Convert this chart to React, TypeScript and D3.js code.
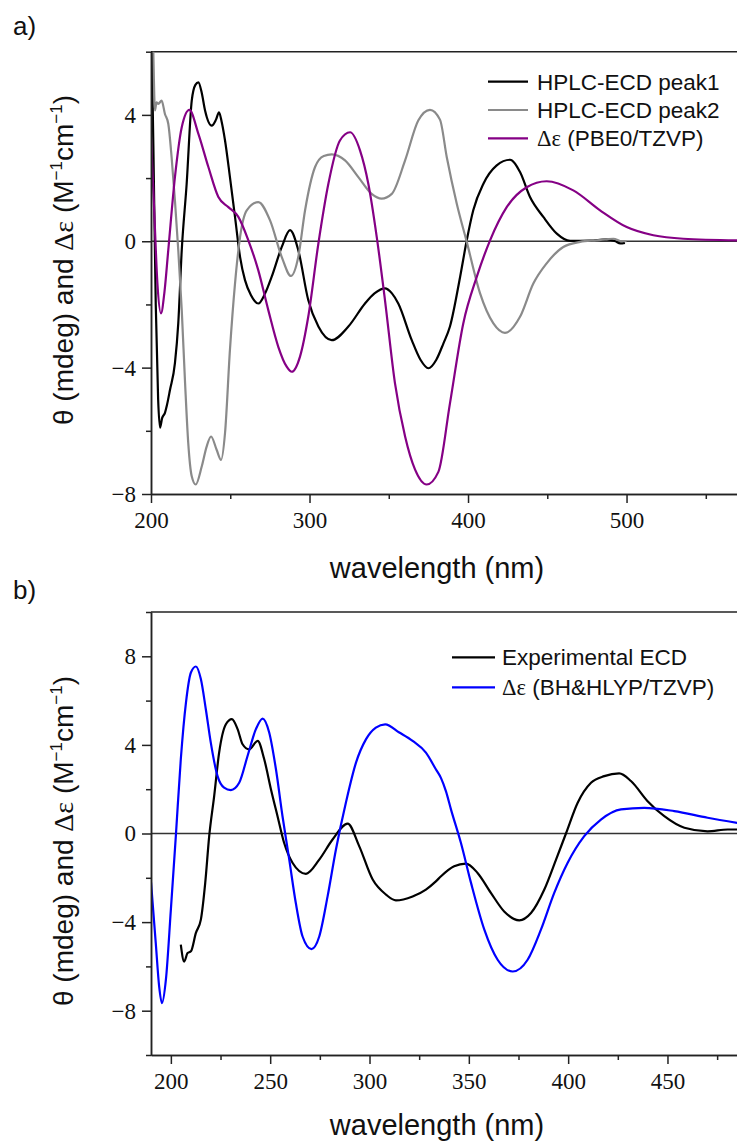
import React, { useEffect, useRef } from 'react';
import * as d3 from 'd3';

// panel a) — HPLC-ECD spectra vs PBE0 calculation, [wavelength nm, value]
const peak1: [number, number][] = [
  [200, 7.5], [201.5, 3], [203, -2], [204.5, -5], [205.7, -5.9], [207, -5.6], [208.8, -5.43], [210, -5.2],
  [212, -4.7], [215.1, -3.86], [217.2, -2.6], [219.4, -0.28], [222.5, 1.82], [225.7, 4.45], [228, 4.95],
  [229.9, 5.03], [232, 4.7], [234.1, 4.14], [238.3, 3.66], [241, 3.85], [242.9, 4.08], [244.5, 3.8],
  [246.7, 3.19], [249.8, 2.03], [253, 0.77], [256.2, -0.5], [259.3, -1.23], [263, -1.7], [267.7, -1.97],
  [272, -1.65], [276.1, -1.13], [282.5, -0.18], [287.7, 0.35], [292.9, -0.28], [299.2, -1.86], [305.6, -2.7],
  [314, -3.13], [324.5, -2.7], [335, -1.97], [341, -1.65], [347.6, -1.49], [352, -1.65], [356, -1.97],
  [364.5, -3.13], [370, -3.75], [375, -4.02], [380, -3.75], [384.5, -3.23], [388.6, -2.7], [395, -1.13],
  [399.2, 0.03], [403.3, 0.98], [409.7, 1.82], [418.1, 2.4], [426.5, 2.58], [432.8, 2.19], [439.1, 1.4],
  [447.5, 0.77], [456, 0.24], [464.4, 0.01], [477, 0.02], [487.5, 0.06], [493, 0.0], [496, -0.07], [499, -0.05],
];

const peak2: [number, number][] = [
  [200, 8], [201.2, 6.5], [202.5, 4.14], [203.5, 4.4], [204.6, 4.35], [206.7, 4.45], [208.8, 4.03],
  [210.9, 3.72], [213, 2.66], [215.1, 1.29], [217.2, -0.28], [219.4, -2.18], [221.5, -4.49], [223.5, -6.39],
  [225.7, -7.44], [228.2, -7.7], [232, -7.13], [235.1, -6.5], [237.9, -6.18], [241.4, -6.6], [244.2, -6.92],
  [246.7, -6.07], [249.8, -3.44], [253, -1.34], [256.2, 0.14], [260.4, 0.98], [267.7, 1.24], [275.1, 0.66],
  [282.5, -0.5], [288.3, -1.1], [292.9, -0.5], [297.2, 0.98], [303.5, 2.35], [309, 2.7], [314, 2.75],
  [322.4, 2.56], [330.8, 2.03], [339.2, 1.5], [345.5, 1.35], [351.9, 1.5], [360.3, 2.56], [368.6, 3.82],
  [376, 4.16], [382.3, 3.85], [386.6, 2.66], [392.9, 1.19], [399.2, -0.02], [407.6, -1.65], [416, -2.6],
  [423.3, -2.9], [432.8, -2.39], [441.2, -1.34], [449.6, -0.7], [460.1, -0.18], [470.7, -0.02],
  [481.2, 0.03], [491.7, 0.08], [497, 0], [500, 0],
];

const pbe0: [number, number][] = [
  [200, 3.3], [202, 1.0], [204, -1.3], [206.3, -2.28], [208.5, -1.6], [210.9, -0.28], [215.1, 2.03],
  [219.4, 3.61], [224.2, 4.16], [229.9, 3.4], [236.2, 2.35], [242.5, 1.4], [248.8, 1.08], [255.1, 0.77],
  [261.4, 0.03], [267.7, -0.92], [274, -2.18], [280.3, -3.34], [285.6, -3.97], [288.8, -4.13], [294, -3.65],
  [299.2, -2.39], [305.6, -0.07], [311.9, 1.82], [319.2, 3.19], [325.6, 3.45], [331.9, 2.87], [337.1, 1.82],
  [342.4, 0.14], [347.6, -1.86], [353.9, -4.49], [360.3, -6.18], [366.6, -7.23], [373.9, -7.7],
  [381.3, -7.3], [388.6, -5.13], [397, -2.6], [405.5, -1.13], [413.9, 0.03], [424.4, 1.08], [437, 1.71],
  [449.6, 1.9], [466.4, 1.61], [483.3, 0.98], [500.1, 0.45], [516.9, 0.19], [535.8, 0.08], [570, 0.03],
];

// panel b) — experimental ECD vs BH&HLYP calculation
const expEcd: [number, number][] = [
  [205, -5.02], [206.7, -5.78], [208.4, -5.4], [210.1, -5.32], [212.6, -4.49], [215.1, -3.89],
  [217.3, -2.23], [219.3, -0.12], [221.8, 1.69], [224.3, 3.65], [227.7, 4.93], [230.7, 5.16], [233.6, 4.71],
  [236.1, 4.03], [239.4, 3.8], [243.7, 4.18], [247, 3.35], [250.4, 1.99], [253.7, 0.78], [257, -0.42],
  [261.3, -1.33], [268, -1.82], [274.7, -1.18], [281.4, -0.27], [289, 0.45], [294.8, -0.57], [301.6, -2.08],
  [308.3, -2.76], [313.3, -3.02], [321.7, -2.84], [328.4, -2.53], [333.4, -2.16], [336, -1.93],
  [342.6, -1.48], [348.5, -1.36], [354.4, -1.78], [361.1, -2.68], [367.8, -3.52], [375.4, -3.92],
  [381.3, -3.59], [388, -2.53], [393.9, -1.18], [398.9, 0], [404.8, 1.39], [411.5, 2.29], [418.2, 2.59],
  [425.7, 2.71], [431.6, 2.37], [440, 1.46], [448.4, 0.78], [458.5, 0.26], [470.2, 0.1], [480.3, 0.18],
  [485.3, 0.18],
];

const bhhlyp: [number, number][] = [
  [190, -2.2], [192.4, -4.95], [194.1, -6.9], [195.5, -7.66], [197.5, -6.6], [200, -3.44], [202.5, -0.12],
  [205, 3.35], [207.6, 5.91], [210.1, 7.27], [212.6, 7.54], [215.1, 6.97], [217.6, 5.61], [220.1, 4.1],
  [223.5, 2.59], [226.8, 2.07], [230.2, 1.96], [234.4, 2.29], [238.6, 3.5], [242.8, 4.71], [246.2, 5.19],
  [249.5, 4.56], [252.9, 2.9], [256.2, 0.78], [259.6, -1.18], [262.9, -3.14], [266.3, -4.65], [270.8, -5.22],
  [274.7, -4.65], [278.9, -2.84], [283.1, -0.72], [288.1, 1.39], [293.2, 3.2], [298.2, 4.25], [303.2, 4.78],
  [307.9, 4.93], [315, 4.56], [321.7, 4.18], [328.4, 3.65], [333.4, 2.9], [336, 2.5], [338.5, 1.9],
  [341, 1.09], [346, -0.42], [351.1, -2.23], [357.8, -4.34], [364.5, -5.7], [372.1, -6.23], [379.6, -5.7],
  [386.3, -4.34], [393, -2.68], [399.7, -1.33], [408.1, -0.12], [416.5, 0.63], [426.6, 1.09], [438.3, 1.16],
  [453.4, 1.01], [470.2, 0.71], [485.3, 0.48],
];

const legendA = ['HPLC-ECD peak1', 'HPLC-ECD peak2', ' (PBE0/TZVP)'];
const legendB = ['Experimental ECD', ' (BH&HLYP/TZVP)'];

const xTicksA = [200, 300, 400, 500];
const xMinorA = [250, 350, 450, 550];
const yTicksA = [-8, -4, 0, 4];
const yMinorA = [-6, -2, 2, 6];

const xTicksB = [200, 250, 300, 350, 400, 450];
const xMinorB = [225, 275, 325, 375, 425, 475];
const yTicksB = [-8, -4, 0, 4, 8];
const yMinorB = [-10, -6, -2, 2, 6, 10];

const W = 737;
const H = 1142;
const SANS = '"Liberation Sans", Arial, sans-serif';
const SERIF = '"Liberation Serif", "Times New Roman", serif';

const drawPanel = (svg, p) => {
  const x = d3.scaleLinear().domain(p.xDomain).range([p.left, p.right]);
  const y = d3.scaleLinear().domain(p.yDomain).range([p.bottom, p.top]);
  const g = svg.append('g');

  g.append('clipPath').attr('id', p.id)
    .append('rect').attr('x', p.left).attr('y', p.top)
    .attr('width', p.right - p.left).attr('height', p.bottom - p.top);

  // top frame + zero line
  g.append('line').attr('x1', p.left).attr('x2', p.right).attr('y1', p.top).attr('y2', p.top)
    .attr('stroke', '#222').attr('stroke-width', 1.5);
  g.append('line').attr('x1', p.left).attr('x2', p.right).attr('y1', y(0)).attr('y2', y(0))
    .attr('stroke', '#333').attr('stroke-width', 1.5);

  const line = d3.line().x((d) => x(d[0])).y((d) => y(d[1])).curve(d3.curveMonotoneX);
  p.series.forEach((s) => {
    g.append('path').datum(s.data)
      .attr('clip-path', `url(#${p.id})`)
      .attr('fill', 'none').attr('stroke', s.color).attr('stroke-width', 2.2)
      .attr('stroke-linejoin', 'round').attr('d', line);
  });

  // axes
  const styleAxis = (ax) => {
    ax.selectAll('path, line').attr('stroke', '#222').attr('stroke-width', 1.5);
    ax.selectAll('text').attr('font-family', SERIF).attr('font-size', 23).attr('fill', '#111');
  };
  g.append('g').attr('transform', `translate(0,${p.bottom})`)
    .call(d3.axisBottom(x).tickValues(p.xMinor).tickSize(5).tickSizeOuter(0).tickFormat(() => ''))
    .call(styleAxis);
  g.append('g').attr('transform', `translate(0,${p.bottom})`)
    .call(d3.axisBottom(x).tickValues(p.xTicks).tickSize(9).tickSizeOuter(0).tickPadding(9).tickFormat(d3.format('d')))
    .call(styleAxis);
  g.append('g').attr('transform', `translate(${p.left},0)`)
    .call(d3.axisLeft(y).tickValues(p.yMinor).tickSize(5).tickSizeOuter(0).tickFormat(() => ''))
    .call(styleAxis);
  g.append('g').attr('transform', `translate(${p.left},0)`)
    .call(d3.axisLeft(y).tickValues(p.yTicks).tickSize(9).tickSizeOuter(0).tickPadding(6).tickFormat(d3.format('d')))
    .call(styleAxis);

  // legend
  p.series.forEach((s, i) => {
    const ly = p.legend.y + i * p.legend.dy;
    g.append('line').attr('x1', p.legend.x1).attr('x2', p.legend.x2).attr('y1', ly).attr('y2', ly)
      .attr('stroke', s.color).attr('stroke-width', 2.2);
    const t = g.append('text').attr('x', p.legend.tx).attr('y', ly + p.legend.fs * 0.36)
      .attr('font-family', SANS).attr('font-size', p.legend.fs).attr('fill', '#111');
    if (s.delta) t.append('tspan').attr('font-family', SERIF).text('Δε');
    t.append('tspan').text(s.label);
  });

  // panel letter
  svg.append('text').attr('x', 13).attr('y', p.letterY).attr('font-family', SANS)
    .attr('font-size', 26).attr('fill', '#111').text(p.letter);

  // x title
  svg.append('text').attr('x', 437).attr('y', p.xTitleY).attr('text-anchor', 'middle')
    .attr('font-family', SANS).attr('font-size', 29).attr('fill', '#111').text('wavelength (nm)');

  // y title
  const yt = svg.append('text')
    .attr('transform', `translate(73,${p.yTitleC}) rotate(-90)`)
    .attr('text-anchor', 'middle').attr('font-family', SANS).attr('font-size', 28).attr('fill', '#111');
  yt.append('tspan').text('θ (mdeg) and ');
  yt.append('tspan').attr('font-family', SERIF).text('Δε');
  yt.append('tspan').text(' (M');
  yt.append('tspan').attr('font-size', 17).attr('dy', -11).text('−1');
  yt.append('tspan').attr('dy', 11).text('cm');
  yt.append('tspan').attr('font-size', 17).attr('dy', -11).text('−1');
  yt.append('tspan').attr('dy', 11).text(')');
};

const App = () => {
  const ref = useRef<SVGSVGElement>(null);

  useEffect(() => {
    const svg = d3.select(ref.current);
    svg.selectAll('*').remove();

    drawPanel(svg, {
      id: 'clipA', left: 151, right: 737.5, top: 51.7, bottom: 494,
      xDomain: [200, 570], yDomain: [-8, 6],
      xTicks: xTicksA, xMinor: xMinorA, yTicks: yTicksA, yMinor: yMinorA,
      series: [
        { data: peak1, color: '#000000', label: legendA[0] },
        { data: peak2, color: '#8a8a8a', label: legendA[1] },
        { data: pbe0, color: '#850085', label: legendA[2], delta: true },
      ],
      legend: { x1: 488, x2: 528, tx: 537, y: 81.7, dy: 28.3, fs: 22.5 },
      letter: 'a)', letterY: 35, xTitleY: 578, yTitleC: 260,
    });

    drawPanel(svg, {
      id: 'clipB', left: 151, right: 737, top: 612, bottom: 1055,
      xDomain: [190, 485], yDomain: [-10, 10],
      xTicks: xTicksB, xMinor: xMinorB, yTicks: yTicksB, yMinor: yMinorB,
      series: [
        { data: expEcd, color: '#000000', label: legendB[0] },
        { data: bhhlyp, color: '#0000ff', label: legendB[1], delta: true },
      ],
      legend: { x1: 452, x2: 495, tx: 502, y: 657.3, dy: 30, fs: 22.5 },
      letter: 'b)', letterY: 599, xTitleY: 1135, yTitleC: 841,
    });
  }, []);

  return (
    <svg ref={ref} width={W} height={H}
      style={{ position: 'absolute', left: 0, top: 0, background: '#fff' }} />
  );
};

export default App;
